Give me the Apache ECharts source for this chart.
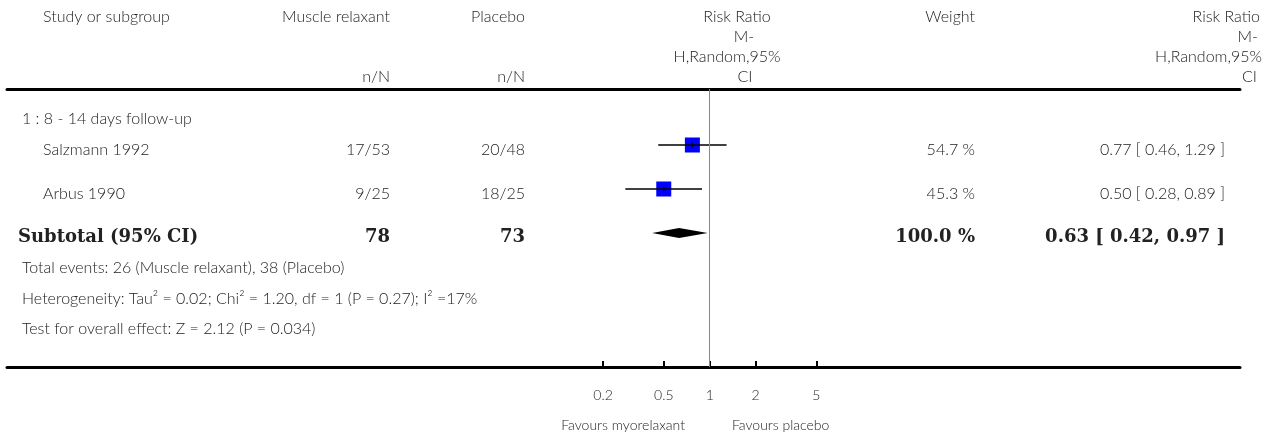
<!DOCTYPE html>
<html>
<head>
<meta charset="utf-8">
<script src="https://cdn.jsdelivr.net/npm/echarts@6/dist/echarts.min.js"></script>
<style>
  html, body { margin: 0; padding: 0; background: #fff; }
  #forestChart { width: 1268px; height: 435px; }
</style>
</head>
<body>
<div id="forestChart"></div>
<script>
// ---- data ----
let studyNames = ["Salzmann 1992", "Arbus 1990"];
let relaxantEvents = ["17/53", "9/25"];
let placeboEvents = ["20/48", "18/25"];
let riskRatios = [0.77, 0.50];
let ciLower = [0.46, 0.28];
let ciUpper = [1.29, 0.89];
let weights = ["54.7 %", "45.3 %"];

let subtotalTotals = ["78", "73"];
let subtotalRR = [0.63, 0.42, 0.97]; // estimate, lower, upper
let subtotalWeight = "100.0 %";

let axisTicks = [0.2, 0.5, 1, 2, 5];
let groupTitle = "1 : 8 - 14 days follow-up";
let footerLines = [
  "Total events: 26 (Muscle relaxant), 38 (Placebo)",
  "Heterogeneity: Tau² = 0.02; Chi² = 1.20, df = 1 (P = 0.27); I² =17%",
  "Test for overall effect: Z = 2.12 (P = 0.034)"
];

// ---- layout ----
let sans = "Lato, 'Open Sans', sans-serif";
let regular = "300 16px " + sans;
let bold = "bold 18px 'DejaVu Serif', serif";
let textColor = "#222";
let lineLeft = 7, lineRight = 1240;
let onePx = 709.7, pxPerDecade = 152.6;   // where RR = 1 sits, log scale width
let xMin = Math.pow(10, -(onePx - lineLeft) / pxPerDecade);
let xMax = Math.pow(10, (lineRight - onePx) / pxPerDecade);
let gridTop = 89, gridBottom = 367, firstRowY = 145, rowGap = 44;
let yMin = -(firstRowY - gridTop) / rowGap;
let yMax = (gridBottom - firstRowY) / rowGap;
let subtotalRow = studyNames.length;

let colRelaxant = 390, colPlacebo = 525, colWeight = 975, colCI = 1225;

function fmt(v) { return v.toFixed(2); }

function txt(text, x, y, align, font) {
  return {
    type: "text",
    x: x,
    y: y,
    style: {
      text: text,
      font: font || regular,
      fill: textColor,
      align: align || "left",
      textAlign: align || "left",
      verticalAlign: "middle",
      textVerticalAlign: "middle"
    },
    silent: true
  };
}

let myChart = echarts.init(document.getElementById("forestChart"));

let headerY = [17, 37, 57, 77];
let graphicEls = [
  txt("Study or subgroup", 43, headerY[0]),
  txt("Muscle relaxant", colRelaxant, headerY[0], "right"),
  txt("Placebo", colPlacebo, headerY[0], "right"),
  txt("n/N", colRelaxant, headerY[3], "right"),
  txt("n/N", colPlacebo, headerY[3], "right"),
  txt("Risk Ratio", 737, headerY[0], "center"),
  txt("M-", 744, headerY[1], "center"),
  txt("H,Random,95%", 727, headerY[2], "center"),
  txt("CI", 745, headerY[3], "center"),
  txt("Weight", colWeight, headerY[0], "right"),
  txt("Risk Ratio", 1260, headerY[0], "right"),
  txt("M-", 1258, headerY[1], "right"),
  txt("H,Random,95%", 1262, headerY[2], "right"),
  txt("CI", 1257, headerY[3], "right"),
  txt(groupTitle, 22, 119),
  txt("Favours myorelaxant", 685, 425, "right", "300 14px " + sans),
  txt("Favours placebo", 732, 425, "left", "300 14px " + sans)
];
footerLines.forEach((line, i) => {
  graphicEls.push(txt(line, 22, 268 + i * 30.5));
});

myChart.setOption({
  animation: false,
  grid: { left: lineLeft, right: 1268 - lineRight, top: gridTop, bottom: 435 - gridBottom },
  xAxis: [
    {
      type: "log",
      min: xMin,
      max: xMax,
      position: "bottom",
      axisLine: { onZero: false, lineStyle: { color: "#000", width: 3 } },
      axisTick: { inside: true, length: 6, customValues: axisTicks, lineStyle: { color: "#000", width: 2 } },
      axisLabel: {
        customValues: axisTicks,
        margin: 21,
        fontSize: 14,
        fontWeight: 300,
        fontFamily: sans,
        color: textColor,
        formatter: (v) => String(v)
      },
      splitLine: { show: false },
      minorTick: { show: false }
    },
    {
      // header rule
      type: "log",
      min: xMin,
      max: xMax,
      position: "top",
      axisLine: { onZero: false, lineStyle: { color: "#000", width: 3 } },
      axisTick: { show: false },
      axisLabel: { show: false },
      splitLine: { show: false }
    }
  ],
  yAxis: { type: "value", inverse: true, min: yMin, max: yMax, show: false },
  graphic: graphicEls,
  series: [
    {
      name: "Studies",
      type: "scatter",
      symbol: "rect",
      symbolSize: 15,
      itemStyle: { color: "#0000ff", opacity: 1 },
      data: riskRatios.map((rr, i) => [rr, i]),
      z: 2,
      markLine: {
        silent: true,
        symbol: "none",
        label: { show: false },
        lineStyle: { color: "#888", width: 1, type: "solid" },
        data: [{ xAxis: 1 }]
      }
    },
    {
      name: "CI",
      type: "custom",
      z: 3,
      data: riskRatios.map((rr, i) => [ciLower[i], i, rr, ciUpper[i]]),
      encode: { x: [0, 2, 3], y: 1 },
      renderItem: (params, api) => {
        let row = api.value(1);
        let lo = api.coord([api.value(0), row]);
        let est = api.coord([api.value(2), row]);
        let hi = api.coord([api.value(3), row]);
        return {
          type: "group",
          children: [
            { type: "line", shape: { x1: lo[0], y1: lo[1], x2: hi[0], y2: hi[1] }, style: { stroke: "#000", lineWidth: 1.5 } },
            { type: "line", shape: { x1: est[0], y1: est[1] - 2.5, x2: est[0], y2: est[1] + 2.5 }, style: { stroke: "#000", lineWidth: 1 } }
          ]
        };
      }
    },
    {
      name: "Subtotal",
      type: "custom",
      z: 3,
      data: [[subtotalRR[1], subtotalRow, subtotalRR[0], subtotalRR[2]]],
      encode: { x: [0, 2, 3], y: 1 },
      renderItem: (params, api) => {
        let row = api.value(1);
        let lo = api.coord([api.value(0), row]);
        let est = api.coord([api.value(2), row]);
        let hi = api.coord([api.value(3), row]);
        let h = 5;
        return {
          type: "polygon",
          shape: { points: [[lo[0], lo[1]], [est[0], est[1] - h], [hi[0], hi[1]], [est[0], est[1] + h]] },
          style: { fill: "#000" }
        };
      }
    },
    {
      // table text for each row, y taken from the row axis
      name: "Table",
      type: "custom",
      z: 4,
      data: studyNames.map((n, i) => [1, i]).concat([[1, subtotalRow]]),
      encode: { x: 0, y: 1 },
      renderItem: (params, api) => {
        let i = params.dataIndex;
        let y = api.coord([1, api.value(1)])[1];
        if (i < studyNames.length) {
          y += 5;
          let ciText = fmt(riskRatios[i]) + " [ " + fmt(ciLower[i]) + ", " + fmt(ciUpper[i]) + " ]";
          return {
            type: "group",
            children: [
              txt(studyNames[i], 43, y),
              txt(relaxantEvents[i], colRelaxant, y, "right"),
              txt(placeboEvents[i], colPlacebo, y, "right"),
              txt(weights[i], colWeight, y, "right"),
              txt(ciText, colCI, y, "right")
            ]
          };
        }
        y += 4;
        let subText = fmt(subtotalRR[0]) + " [ " + fmt(subtotalRR[1]) + ", " + fmt(subtotalRR[2]) + " ]";
        return {
          type: "group",
          children: [
            txt("Subtotal (95% CI)", 18, y, "left", bold),
            txt(subtotalTotals[0], colRelaxant, y, "right", bold),
            txt(subtotalTotals[1], colPlacebo, y, "right", bold),
            txt(subtotalWeight, colWeight, y, "right", bold),
            txt(subText, colCI, y, "right", bold)
          ]
        };
      }
    }
  ]
});
</script>
</body>
</html>
